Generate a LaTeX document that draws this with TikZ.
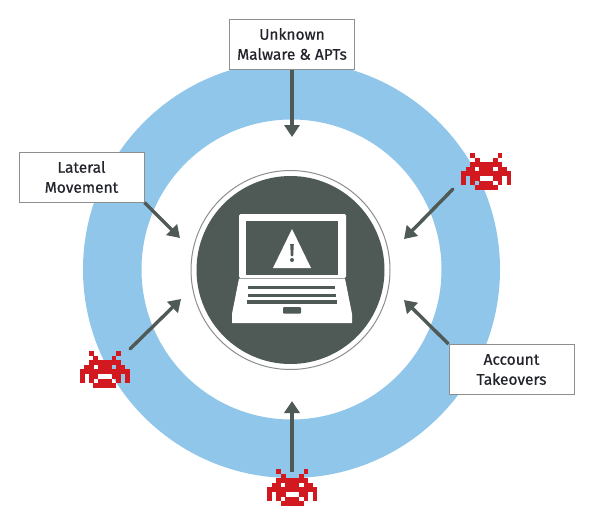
\documentclass[tikz,border=0pt]{standalone}
\usepackage{fontspec}
\setmainfont{Fira Sans}[FakeBold=0.6]
\usetikzlibrary{arrows.meta}
\definecolor{ringblue}{HTML}{8FC6E9}
\definecolor{slate}{HTML}{4F5A56}
\definecolor{invred}{HTML}{D2191F}
\definecolor{boxgray}{HTML}{8C8F8E}
\definecolor{labelink}{HTML}{23242B}
\tikzset{
  labelbox/.style={draw=boxgray,line width=1pt,fill=white,minimum width=125pt,minimum height=50pt,
    inner sep=0pt,align=center,text=labelink,font=\fontsize{15.5}{20}\selectfont},
  attack/.style={draw=slate,line width=3.4pt,-{Triangle[width=15pt,length=12pt]}},
  pics/invader/.style={code={
    \foreach \r/\a/\b in {0/2/2,0/8/8,1/3/3,1/7/7,2/2/8,3/1/2,3/4/6,3/8/9,4/0/10,
      5/0/0,5/2/3,5/7/8,5/10/10,6/0/0,6/2/2,6/4/6,6/8/8,6/10/10,7/3/7}
      \fill[invred] ({(\a)*4.52-0.1},{(\r)*4.6-0.1}) rectangle ({(\b+1)*4.52+0.1},{(\r+1)*4.6+0.1});
  }}
}
\begin{document}
\begin{tikzpicture}[x=1pt,y=-1pt]
\useasboundingbox (0,0) rectangle (600,530);
% ring
\coordinate (ctr) at (291.5,269.5);
\fill[ringblue,even odd rule] (ctr) circle[radius=208.5] (ctr) circle[radius=150];
% centre disc
\node[circle,draw=boxgray,line width=1pt,fill=white,minimum size=199pt,inner sep=0pt] (halo) at (290.5,270) {};
\node[circle,fill=slate,minimum size=188pt,inner sep=0pt] (disc) at (290.5,270) {};
% laptop lid
\fill[white,rounded corners=1.5pt] (239,214) rectangle (346,278);
\fill[slate] (246,221) rectangle (338,275);
\fill[white,line join=round] (292,229) -- (311,268) -- (273,268) -- cycle;
\fill[slate] (290.2,244) -- (293.8,244) -- (293.2,256) -- (290.8,256) -- cycle;
\fill[slate] (292,260) circle[radius=2];
% laptop base
\fill[white] (239,278.5) -- (345,278.5) -- (352,314) -- (352,323) -- (232,323) -- (232,314) -- cycle;
\fill[slate] (248,286) rectangle (335,289.3);
\fill[slate] (247.5,293.5) rectangle (336,297);
\fill[slate] (247,300) rectangle (337,303.5);
\fill[slate,rounded corners=1pt] (283,307) rectangle (301,313.5);
% coordinates
\coordinate (tipTop) at (292,137);
\coordinate (tipTR) at (404,239);
\coordinate (tipL) at (180,238);
\coordinate (tipBL) at (181,299);
\coordinate (tipB) at (292,401);
\coordinate (tipBR) at (404,300);
\coordinate (srcTR) at (453,189);
\coordinate (srcBL) at (130,349);
\coordinate (srcB) at (292,472);
% label boxes
\node[labelbox] (unknown) at (292,44) {\raisebox{-1pt}{Unknown}\\\raisebox{-1pt}{Malware \& APTs}};
\node[labelbox] (lateral) at (81.5,177) {\raisebox{-1pt}{Lateral}\\\raisebox{-1pt}{Movement}};
\node[labelbox] (account) at (511.5,369.5) {\raisebox{-1pt}{Account}\\\raisebox{-1pt}{Takeovers}};
% invaders
\pic at (461.5,153) {invader};
\pic at (80,351) {invader};
\pic at (267.5,469) {invader};
% arrows
\draw[attack] (unknown.south) -- (tipTop);
\draw[attack] (lateral.south east) -- (tipL);
\draw[attack] (account.north west) -- (tipBR);
\draw[attack,line cap=round] (srcTR) -- (tipTR);
\draw[attack,line cap=round] (srcBL) -- (tipBL);
\draw[attack] (srcB) -- (tipB);
\end{tikzpicture}
\end{document}
